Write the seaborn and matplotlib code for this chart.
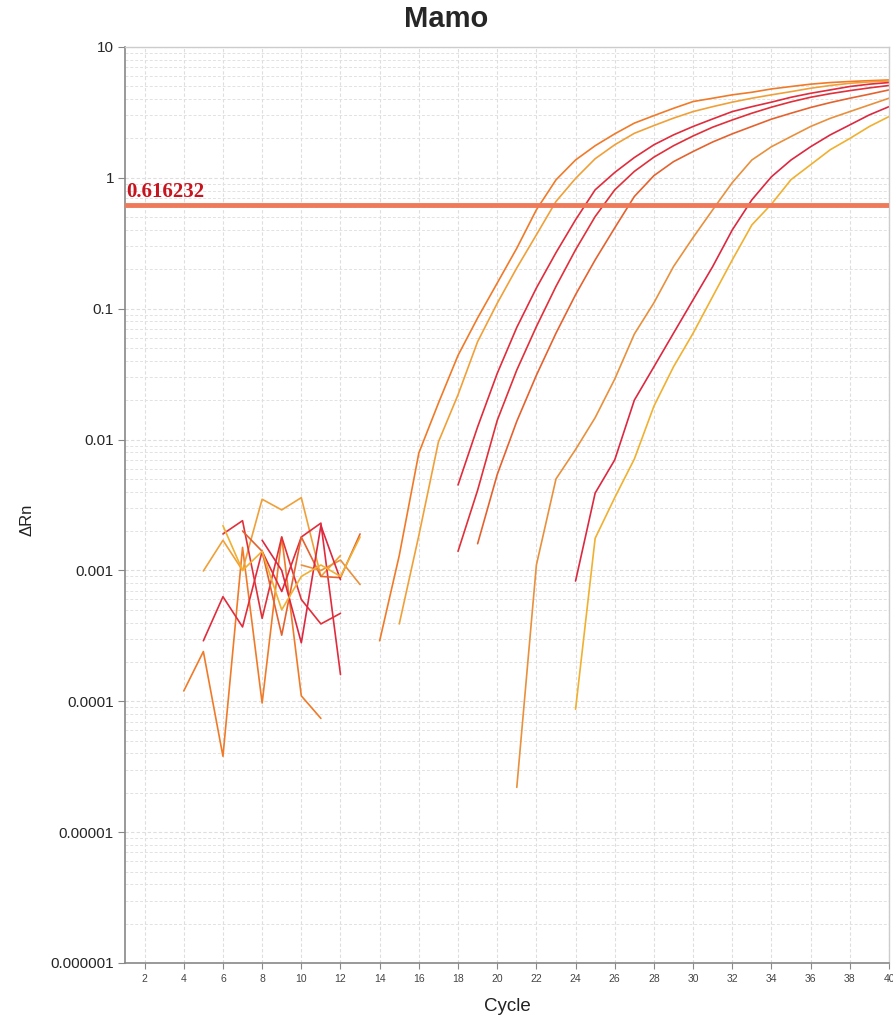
import numpy as np
import pandas as pd
import matplotlib.pyplot as plt
import seaborn as sns
from matplotlib.ticker import FixedLocator, FixedFormatter, LogLocator, NullFormatter

nan = np.nan

# ---- data ----
cycles = list(range(1, 41))
threshold = 0.616232

# delta Rn per cycle for each well (nan = not drawn / non-positive)
well_a = [nan, nan, nan, 1.2e-4, 2.4e-4, 3.8e-5, 1.5e-3, 9.7e-5, 1.8e-3, 1.1e-4,
          7.4e-5, nan, nan, 2.9e-4, 1.3e-3, 7.9e-3, 0.019, 0.044, 0.085, 0.157,
          0.29, 0.57, 0.965, 1.37, 1.76, 2.17, 2.62, 2.99, 3.40, 3.83,
          4.06, 4.31, 4.51, 4.78, 4.99, 5.2, 5.35, 5.45, 5.53, 5.6]
well_b = [nan, nan, nan, nan, 9.9e-4, 1.7e-3, 1.0e-3, 3.5e-3, 2.9e-3, 3.6e-3,
          9.0e-4, 1.3e-3, nan, nan, 3.9e-4, 1.85e-3, 9.6e-3, 0.022, 0.056, 0.110,
          0.205, 0.367, 0.66, 0.99, 1.40, 1.79, 2.19, 2.51, 2.86, 3.21,
          3.5, 3.79, 4.06, 4.31, 4.56, 4.84, 5.08, 5.28, 5.41, 5.5]
well_c = [nan, nan, nan, nan, 2.9e-4, 6.3e-4, 3.7e-4, 1.4e-3, 6.9e-4, 1.8e-3,
          2.3e-3, 1.6e-4, nan, nan, nan, nan, nan, 4.5e-3, 0.0125, 0.032,
          0.072, 0.144, 0.268, 0.478, 0.81, 1.1, 1.43, 1.79, 2.13, 2.47,
          2.82, 3.21, 3.5, 3.79, 4.13, 4.43, 4.7, 4.99, 5.2, 5.35]
well_d = [nan, nan, nan, nan, nan, 1.9e-3, 2.4e-3, 4.3e-4, 1.8e-3, 6.0e-4,
          3.9e-4, 4.7e-4, nan, nan, nan, nan, nan, 1.4e-3, 4.1e-3, 0.014,
          0.034, 0.073, 0.148, 0.282, 0.506, 0.81, 1.12, 1.44, 1.76, 2.09,
          2.44, 2.77, 3.12, 3.47, 3.81, 4.13, 4.4, 4.64, 4.87, 5.08]
well_e = [nan, nan, nan, nan, nan, nan, 2.0e-3, 1.4e-3, 3.2e-4, 1.8e-3,
          9.0e-4, 8.8e-4, 1.9e-3, nan, nan, nan, nan, nan, 1.6e-3, 5.4e-3,
          0.0138, 0.031, 0.065, 0.128, 0.236, 0.415, 0.72, 1.04, 1.33, 1.59,
          1.88, 2.17, 2.47, 2.81, 3.12, 3.45, 3.76, 4.06, 4.36, 4.7]
well_f = [nan, nan, nan, nan, nan, nan, nan, nan, nan, 1.1e-3,
          1.0e-3, 1.2e-3, 7.8e-4, nan, nan, nan, nan, nan, nan, nan,
          2.2e-5, 1.1e-3, 5.0e-3, 8.4e-3, 0.0147, 0.029, 0.064, 0.111, 0.21, 0.35,
          0.57, 0.92, 1.37, 1.73, 2.07, 2.47, 2.85, 3.21, 3.61, 4.06]
well_g = [nan, nan, nan, nan, nan, nan, nan, 1.7e-3, 1.0e-3, 2.8e-4,
          2.2e-3, 8.5e-4, nan, nan, nan, nan, nan, nan, nan, nan,
          nan, nan, nan, 8.3e-4, 3.9e-3, 7.0e-3, 0.020, 0.036, 0.065, 0.117,
          0.21, 0.40, 0.68, 1.02, 1.37, 1.73, 2.13, 2.54, 3.03, 3.5]
well_h = [nan, nan, nan, nan, nan, 2.2e-3, 1.0e-3, 1.4e-3, 5.0e-4, 9.0e-4,
          1.1e-3, 9.0e-4, 1.8e-3, nan, nan, nan, nan, nan, nan, nan,
          nan, nan, nan, 8.7e-5, 1.76e-3, 3.6e-3, 7.1e-3, 0.018, 0.036, 0.065,
          0.124, 0.236, 0.437, 0.63, 0.97, 1.26, 1.64, 2.0, 2.47, 2.94]

well_names = ["A", "B", "C", "D", "E", "F", "G", "H"]
well_colors = ["#F07A28", "#F0A038", "#E02C3C", "#E0303A", "#E4622E",
               "#E8903C", "#DC2840", "#F0B030"]
y_ticks = [1e-6, 1e-5, 1e-4, 1e-3, 1e-2, 1e-1, 1, 10]
y_tick_labels = ["0.000001", "0.00001", "0.0001", "0.001", "0.01", "0.1", "1", "10"]
x_ticks = list(range(2, 41, 2))


def to_long(names, series):
    """Long table; every unbroken run of values gets its own segment id."""
    rows = []
    seg = 0
    for name, vals in zip(names, series):
        prev_nan = True
        for c, v in zip(cycles, vals):
            if np.isnan(v):
                prev_nan = True
                continue
            if prev_nan:
                seg += 1
                prev_nan = False
            rows.append({"Cycle": c, "dRn": v, "well": name, "segment": seg})
    return pd.DataFrame(rows)


df = to_long(well_names, [well_a, well_b, well_c, well_d, well_e, well_f, well_g, well_h])

sns.set_style("white")
plt.rcParams["font.family"] = ["Liberation Sans", "DejaVu Sans"]

fig = plt.figure(figsize=(8.93, 10.18), dpi=100)
ax = fig.add_axes([125 / 893, 1 - 963 / 1018, 764 / 893, 916 / 1018])

ax.set_yscale("log")
ax.set_xlim(1, 40)
ax.set_ylim(1e-6, 10)

# grid first so curves sit on top
ax.yaxis.set_minor_locator(LogLocator(base=10, subs=np.arange(2, 10)))
ax.yaxis.set_minor_formatter(NullFormatter())
ax.grid(which="major", color="#dedede", linestyle=(0, (3, 2)), linewidth=0.8)
ax.grid(which="minor", axis="y", color="#e2e2e2", linestyle=(0, (3, 2)), linewidth=0.7)
ax.set_axisbelow(True)

sns.lineplot(data=df, x="Cycle", y="dRn", hue="well", units="segment",
             estimator=None, sort=False, palette=dict(zip(well_names, well_colors)),
             linewidth=1.2, legend=False, ax=ax)

ax.axhline(threshold, color="#EF7A5A", linewidth=3.5, zorder=3)
ax.text(1.05, threshold * 1.07, f"{threshold:.6f}", color="#C8141E",
        fontfamily="Liberation Serif", fontweight="bold", fontsize=15,
        va="bottom", ha="left", zorder=4)

ax.yaxis.set_major_locator(FixedLocator(y_ticks))
ax.yaxis.set_major_formatter(FixedFormatter(y_tick_labels))
ax.set_xticks(x_ticks)
ax.tick_params(axis="y", which="major", labelsize=11, length=5, color="#888888",
               direction="out", left=True, pad=3)
ax.tick_params(axis="y", which="minor", length=0)
ax.tick_params(axis="x", labelsize=7.5, length=4, color="#888888", labelcolor="#444444",
               direction="out", bottom=True, pad=4)

for side in ["left", "bottom"]:
    ax.spines[side].set_color("#888888")
    ax.spines[side].set_linewidth(1.2)
for side in ["top", "right"]:
    ax.spines[side].set_color("#cccccc")
    ax.spines[side].set_linewidth(1.0)

ax.set_xlabel("Cycle", fontsize=13.5, color="#222222")
ax.xaxis.set_label_coords(0.5, -0.038)
ax.set_ylabel("ΔRn", fontsize=12, color="#222222")
ax.yaxis.set_label_coords(-0.118, 0.484)

fig.text(0.5, 1 - 19 / 1018, "Mamo", ha="center", va="center",
         fontsize=21, fontweight="bold")

fig.savefig("out.png", dpi=100)
